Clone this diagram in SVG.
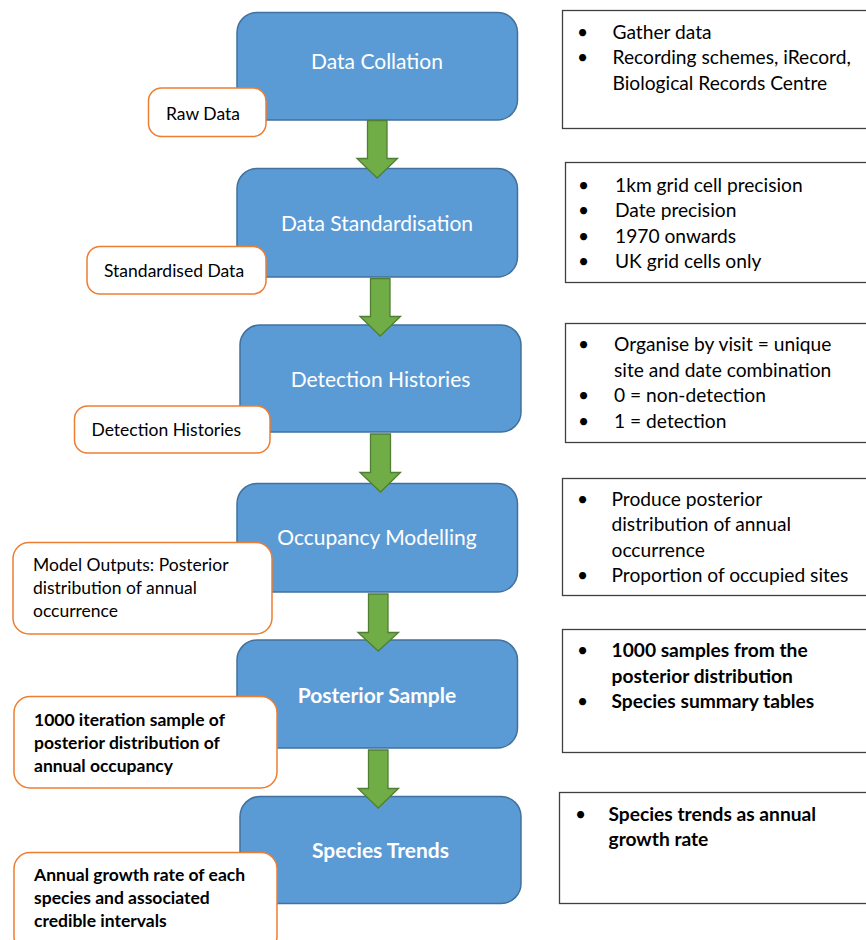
<svg xmlns="http://www.w3.org/2000/svg" width="866" height="940" viewBox="0 0 866 940">
<defs>
<style>
.step rect{fill:#5B9BD5;stroke:#41719C;stroke-width:1.5}
.step text{fill:#ffffff;font-family:Lato,"Liberation Sans",sans-serif;font-size:21px;text-anchor:middle}
.step text.b{font-weight:bold}
.out rect{fill:#ffffff;stroke:#ED7D31;stroke-width:1.5}
.out text{fill:#000000;font-family:Lato,"Liberation Sans",sans-serif;font-size:17.5px}
.out text.b{font-weight:bold}
.note rect{fill:#ffffff;stroke:#404040;stroke-width:1.3}
.note text{fill:#000000;font-family:Lato,"Liberation Sans",sans-serif;font-size:19.2px}
.note text.b{font-weight:bold}
.arrow{fill:#70AD47;stroke:#507E32;stroke-width:1.3}
</style>
</defs>

<g id="notes">
<g id="note1" class="note">
<rect x="562.5" y="10.5" width="310" height="118"/>
<text x="577" y="38.5">•</text><text x="612.5" y="38.5">Gather data</text>
<text x="577" y="64">•</text><text x="612.5" y="64">Recording schemes, iRecord,</text>
<text x="612.5" y="89.5">Biological Records Centre</text>
</g>
<g id="note2" class="note">
<rect x="565.5" y="162.5" width="310" height="120"/>
<text x="578" y="191.5">•</text><text x="615" y="191.5">1km grid cell precision</text>
<text x="578" y="217">•</text><text x="615" y="217">Date precision</text>
<text x="578" y="242.5">•</text><text x="615" y="242.5">1970 onwards</text>
<text x="578" y="268">•</text><text x="615" y="268">UK grid cells only</text>
</g>
<g id="note3" class="note">
<rect x="565.5" y="323.5" width="310" height="119"/>
<text x="578" y="351">•</text><text x="614" y="351">Organise by visit = unique</text>
<text x="614" y="376.5">site and date combination</text>
<text x="578" y="402">•</text><text x="614" y="402">0 = non-detection</text>
<text x="578" y="427.5">•</text><text x="614" y="427.5">1 = detection</text>
</g>
<g id="note4" class="note">
<rect x="562.5" y="478.5" width="310" height="117"/>
<text x="577" y="505.5">•</text><text x="611.5" y="505.5">Produce posterior</text>
<text x="611.5" y="531">distribution of annual</text>
<text x="611.5" y="556.5">occurrence</text>
<text x="577" y="582">•</text><text x="611.5" y="582">Proportion of occupied sites</text>
</g>
<g id="note5" class="note">
<rect x="562.5" y="629.5" width="310" height="123"/>
<text x="577" y="657">•</text><text class="b" x="611.5" y="657">1000 samples from the</text>
<text class="b" x="611.5" y="682.5">posterior distribution</text>
<text x="577" y="708">•</text><text class="b" x="611.5" y="708">Species summary tables</text>
</g>
<g id="note6" class="note">
<rect x="559.5" y="792.5" width="312" height="111"/>
<text x="575" y="820.5">•</text><text class="b" x="608.5" y="820.5">Species trends as annual</text>
<text class="b" x="608.5" y="846">growth rate</text>
</g>
</g>

<g id="steps">
<g id="step1" class="step"><rect x="237" y="12.5" width="280.5" height="107.5" rx="20"/><text x="377" y="69">Data Collation</text></g>
<g id="step2" class="step"><rect x="237" y="168.5" width="280.5" height="108.5" rx="20"/><text x="377" y="230.5">Data Standardisation</text></g>
<g id="step3" class="step"><rect x="240" y="325" width="281" height="107" rx="20"/><text x="380.5" y="387">Detection Histories</text></g>
<g id="step4" class="step"><rect x="237" y="483.5" width="280.5" height="108.5" rx="20"/><text x="377" y="545">Occupancy Modelling</text></g>
<g id="step5" class="step"><rect x="237" y="640" width="280.5" height="108" rx="20"/><text class="b" x="377" y="703">Posterior Sample</text></g>
<g id="step6" class="step"><rect x="240" y="796.5" width="281" height="107" rx="20"/><text class="b" x="380.5" y="858">Species Trends</text></g>
</g>

<g id="outputs">
<g id="out1" class="out"><rect x="148.5" y="88" width="117.5" height="48.5" rx="13"/><text x="166" y="119.5">Raw Data</text></g>
<g id="out2" class="out"><rect x="87" y="246.5" width="179" height="47.5" rx="13"/><text x="104" y="276.5">Standardised Data</text></g>
<g id="out3" class="out"><rect x="74.5" y="406" width="195.5" height="47" rx="13"/><text x="91.5" y="436">Detection Histories</text></g>
<g id="out4" class="out"><rect x="13" y="542.5" width="259" height="91.5" rx="16"/>
<text x="33" y="571">Model Outputs: Posterior</text><text x="33" y="594">distribution of annual</text><text x="33" y="617">occurrence</text></g>
<g id="out5" class="out"><rect x="14" y="696.5" width="263" height="91.5" rx="16"/>
<text class="b" x="34" y="726">1000 iteration sample of</text><text class="b" x="34" y="749">posterior distribution of</text><text class="b" x="34" y="772">annual occupancy</text></g>
<g id="out6" class="out"><rect x="14" y="852.5" width="263" height="100" rx="16"/>
<text class="b" x="34" y="881">Annual growth rate of each</text><text class="b" x="34" y="904">species and associated</text><text class="b" x="34" y="927">credible intervals</text></g>
</g>

<g id="connectors">
<path class="arrow" d="M367.5 120.5 H387 V158.5 H397.5 L377.2 178 L357 158.5 H367.5 Z"/>
<path class="arrow" d="M370.5 278.5 H390 V316.5 H400.5 L380.2 336 L360 316.5 H370.5 Z"/>
<path class="arrow" d="M370.5 434 H390.5 V472.5 H400.5 L380.5 492 L360 472.5 H370.5 Z"/>
<path class="arrow" d="M368.5 594 H388 V632.5 H398.5 L378.2 651 L358 632.5 H368.5 Z"/>
<path class="arrow" d="M368.5 750 H388 V788.5 H398.5 L378.2 808 L358 788.5 H368.5 Z"/>
</g>
</svg>
